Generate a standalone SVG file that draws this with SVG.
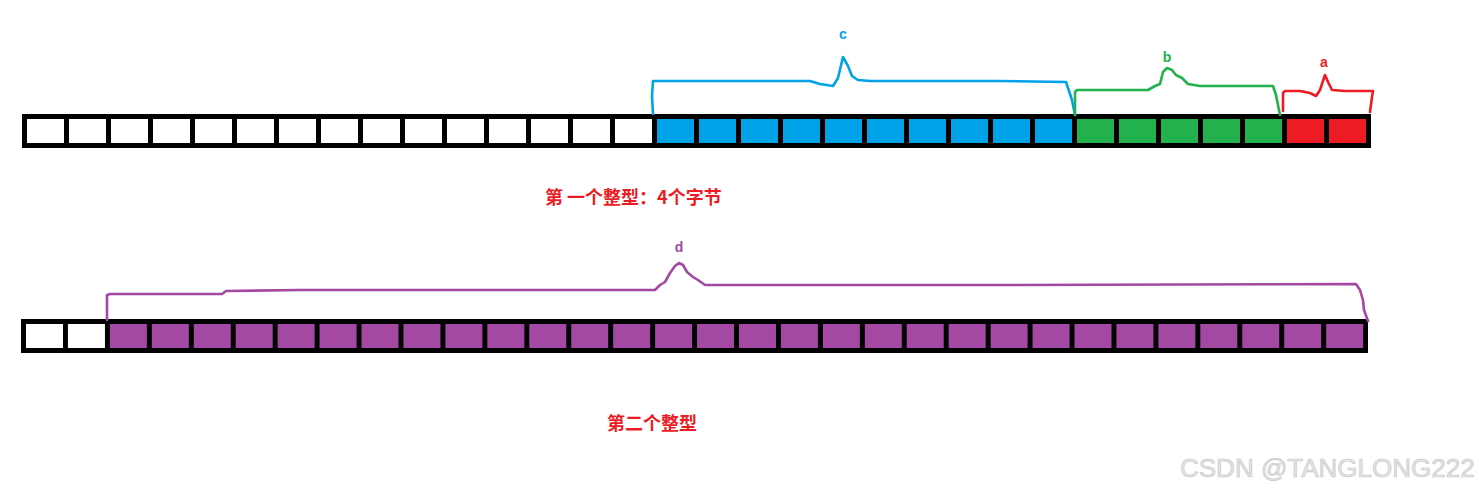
<svg xmlns="http://www.w3.org/2000/svg" width="1479" height="493" viewBox="0 0 1479 493">
<style>
.frame{fill:#000}
.w{fill:#fff}
.bl{fill:#00a2e8}
.gr{fill:#22b14c}
.rd{fill:#ed1c24}
.pu{fill:#a349a4}
.br{fill:none;stroke-width:2.6;stroke-linejoin:round;stroke-linecap:round}
.lbl{font-family:"Liberation Sans","Noto Sans",sans-serif;font-weight:bold;font-size:14px;text-anchor:middle}
.cap{font-family:"Noto Sans CJK SC","Liberation Sans",sans-serif;font-weight:bold;font-size:18px;fill:#ed1c24}
.wm{font-family:"Liberation Sans",Arial,sans-serif;font-size:26px;fill:#e4e4e4;stroke:#c4c4c4;stroke-width:0.6}
</style>
<rect width="1479" height="493" fill="#fff"/>
<g id="row1">
<rect class="frame" x="22" y="114" width="1349" height="34"/>
<g id="r1c0"><rect class="w" x="27" y="119" width="37" height="24"/></g>
<g id="r1c1"><rect class="w" x="69" y="119" width="37" height="24"/></g>
<g id="r1c2"><rect class="w" x="111" y="119" width="37" height="24"/></g>
<g id="r1c3"><rect class="w" x="153" y="119" width="37" height="24"/></g>
<g id="r1c4"><rect class="w" x="195" y="119" width="37" height="24"/></g>
<g id="r1c5"><rect class="w" x="237" y="119" width="37" height="24"/></g>
<g id="r1c6"><rect class="w" x="279" y="119" width="37" height="24"/></g>
<g id="r1c7"><rect class="w" x="321" y="119" width="37" height="24"/></g>
<g id="r1c8"><rect class="w" x="363" y="119" width="37" height="24"/></g>
<g id="r1c9"><rect class="w" x="405" y="119" width="37" height="24"/></g>
<g id="r1c10"><rect class="w" x="447" y="119" width="37" height="24"/></g>
<g id="r1c11"><rect class="w" x="489" y="119" width="37" height="24"/></g>
<g id="r1c12"><rect class="w" x="531" y="119" width="37" height="24"/></g>
<g id="r1c13"><rect class="w" x="573" y="119" width="37" height="24"/></g>
<g id="r1c14"><rect class="w" x="615" y="119" width="37" height="24"/></g>
<g id="r1c15"><rect class="bl" x="657" y="119" width="37" height="24"/></g>
<g id="r1c16"><rect class="bl" x="699" y="119" width="37" height="24"/></g>
<g id="r1c17"><rect class="bl" x="741" y="119" width="37" height="24"/></g>
<g id="r1c18"><rect class="bl" x="783" y="119" width="37" height="24"/></g>
<g id="r1c19"><rect class="bl" x="825" y="119" width="37" height="24"/></g>
<g id="r1c20"><rect class="bl" x="867" y="119" width="37" height="24"/></g>
<g id="r1c21"><rect class="bl" x="909" y="119" width="37" height="24"/></g>
<g id="r1c22"><rect class="bl" x="951" y="119" width="37" height="24"/></g>
<g id="r1c23"><rect class="bl" x="993" y="119" width="37" height="24"/></g>
<g id="r1c24"><rect class="bl" x="1035" y="119" width="37" height="24"/></g>
<g id="r1c25"><rect class="gr" x="1077" y="119" width="37" height="24"/></g>
<g id="r1c26"><rect class="gr" x="1119" y="119" width="37" height="24"/></g>
<g id="r1c27"><rect class="gr" x="1161" y="119" width="37" height="24"/></g>
<g id="r1c28"><rect class="gr" x="1203" y="119" width="37" height="24"/></g>
<g id="r1c29"><rect class="gr" x="1245" y="119" width="37" height="24"/></g>
<g id="r1c30"><rect class="rd" x="1287" y="119" width="37" height="24"/></g>
<g id="r1c31"><rect class="rd" x="1329" y="119" width="37" height="24"/></g>
</g>
<g id="row2">
<rect class="frame" x="21" y="319" width="1347" height="34"/>
<g id="r2c0"><rect class="w" x="26" y="324" width="37" height="24"/></g>
<g id="r2c1"><rect class="w" x="67.94" y="324" width="37" height="24"/></g>
<g id="r2c2"><rect class="pu" x="109.88" y="324" width="37" height="24"/></g>
<g id="r2c3"><rect class="pu" x="151.82" y="324" width="37" height="24"/></g>
<g id="r2c4"><rect class="pu" x="193.76" y="324" width="37" height="24"/></g>
<g id="r2c5"><rect class="pu" x="235.7" y="324" width="37" height="24"/></g>
<g id="r2c6"><rect class="pu" x="277.64" y="324" width="37" height="24"/></g>
<g id="r2c7"><rect class="pu" x="319.58" y="324" width="37" height="24"/></g>
<g id="r2c8"><rect class="pu" x="361.52" y="324" width="37" height="24"/></g>
<g id="r2c9"><rect class="pu" x="403.46" y="324" width="37" height="24"/></g>
<g id="r2c10"><rect class="pu" x="445.4" y="324" width="37" height="24"/></g>
<g id="r2c11"><rect class="pu" x="487.34" y="324" width="37" height="24"/></g>
<g id="r2c12"><rect class="pu" x="529.28" y="324" width="37" height="24"/></g>
<g id="r2c13"><rect class="pu" x="571.22" y="324" width="37" height="24"/></g>
<g id="r2c14"><rect class="pu" x="613.16" y="324" width="37" height="24"/></g>
<g id="r2c15"><rect class="pu" x="655.1" y="324" width="37" height="24"/></g>
<g id="r2c16"><rect class="pu" x="697.04" y="324" width="37" height="24"/></g>
<g id="r2c17"><rect class="pu" x="738.98" y="324" width="37" height="24"/></g>
<g id="r2c18"><rect class="pu" x="780.92" y="324" width="37" height="24"/></g>
<g id="r2c19"><rect class="pu" x="822.86" y="324" width="37" height="24"/></g>
<g id="r2c20"><rect class="pu" x="864.8" y="324" width="37" height="24"/></g>
<g id="r2c21"><rect class="pu" x="906.74" y="324" width="37" height="24"/></g>
<g id="r2c22"><rect class="pu" x="948.68" y="324" width="37" height="24"/></g>
<g id="r2c23"><rect class="pu" x="990.62" y="324" width="37" height="24"/></g>
<g id="r2c24"><rect class="pu" x="1032.56" y="324" width="37" height="24"/></g>
<g id="r2c25"><rect class="pu" x="1074.5" y="324" width="37" height="24"/></g>
<g id="r2c26"><rect class="pu" x="1116.44" y="324" width="37" height="24"/></g>
<g id="r2c27"><rect class="pu" x="1158.38" y="324" width="37" height="24"/></g>
<g id="r2c28"><rect class="pu" x="1200.32" y="324" width="37" height="24"/></g>
<g id="r2c29"><rect class="pu" x="1242.26" y="324" width="37" height="24"/></g>
<g id="r2c30"><rect class="pu" x="1284.2" y="324" width="37" height="24"/></g>
<g id="r2c31"><rect class="pu" x="1326.14" y="324" width="37" height="24"/></g>
</g>
<g id="connectors">
<path id="brace-c" class="br" stroke="#00a2e8" d="M653,114 L652,96 L653,81 L740,81 L810,81 L820,84 L833,86 L838,78 L843,57 L848,66 L852,76 L858,80 L870,81 L1000,81 L1066,82 L1068,88 L1072,100 L1075,115"/>
<path id="brace-b" class="br" stroke="#22b14c" d="M1075,115 L1075,92 L1077,90 L1148,90 L1155,86 L1160,84 L1163,72 L1167,68 L1172,70 L1176,75 L1182,78 L1188,84 L1200,86 L1273,86 L1276,95 L1280,115"/>
<path id="brace-a" class="br" stroke="#ed1c24" d="M1283,111 L1283,93 L1285,91 L1300,91 L1310,93 L1316,96 L1320,90 L1325,75 L1328,82 L1332,90 L1345,91 L1373,91 L1372,97 L1370,112"/>
<path id="brace-d" class="br" stroke="#a349a4" d="M107,320 L107,295 L110,294 L222,294 L226,291 L300,290 L655,290 L660,285 L665,282 L670,273 L675,266 L679,263 L683,265 L687,272 L693,277 L698,280 L705,285 L1000,285 L1356,284 L1360,290 L1363,300 L1364,310 L1368,321"/>
</g>
<g id="label-c"><text class="lbl" x="843" y="39" fill="#00a2e8">c</text></g>
<g id="label-b"><text class="lbl" x="1167" y="62" fill="#22b14c">b</text></g>
<g id="label-a"><text class="lbl" x="1324" y="67" fill="#ed1c24">a</text></g>
<g id="label-d"><text class="lbl" x="679" y="252" fill="#a349a4">d</text></g>
<g id="caption1"><text class="cap" x="545" y="204">第 一个整型：4个字节</text></g>
<g id="caption2"><text class="cap" x="607" y="430">第二个整型</text></g>
<g id="watermark"><text class="wm" x="1180" y="477">CSDN @TANGLONG222</text></g>
</svg>
